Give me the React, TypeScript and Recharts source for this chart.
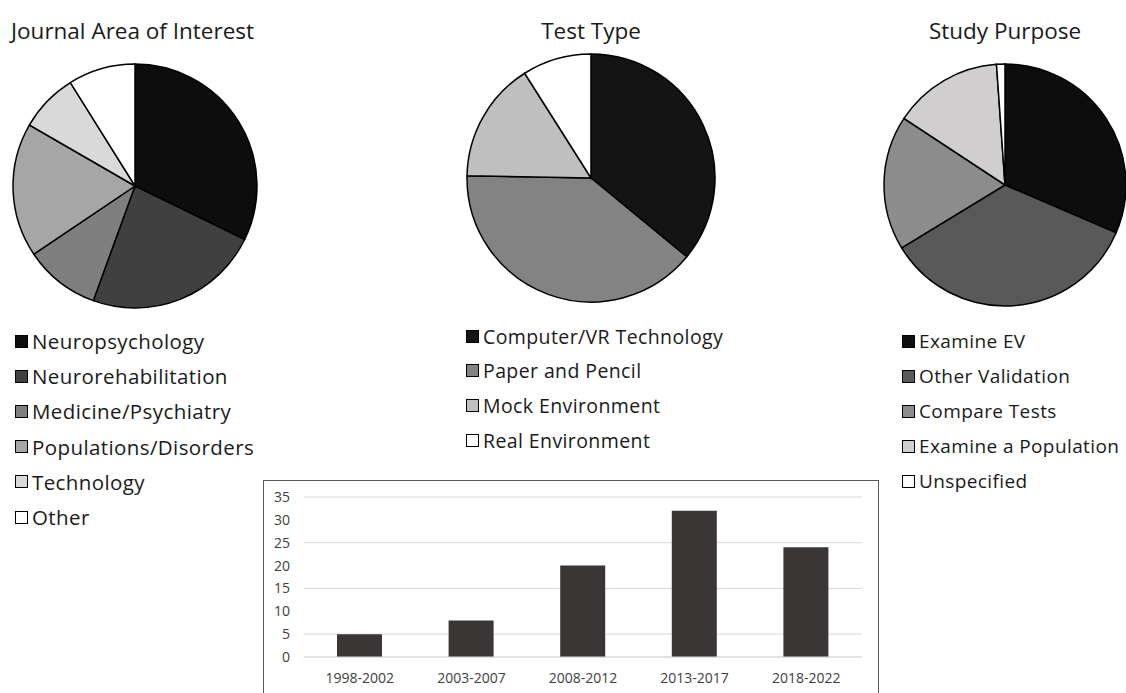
import React from 'react';
import { PieChart, Pie, BarChart, Bar, XAxis, YAxis, CartesianGrid } from 'recharts';

// Journal area of interest
const journalAreas = ['Neuropsychology', 'Neurorehabilitation', 'Medicine/Psychiatry', 'Populations/Disorders', 'Technology', 'Other'];
const journalCounts = [29, 21, 9, 16, 7, 8];
const journalColors = ['#0d0d0d', '#404040', '#7f7f7f', '#a6a6a6', '#d9d9d9', '#ffffff'];

// Test type
const testTypes = ['Computer/VR Technology', 'Paper and Pencil', 'Mock Environment', 'Real Environment'];
const testCounts = [32, 35, 14, 8];
const testColors = ['#141414', '#838383', '#bfbfbf', '#ffffff'];

// Study purpose
const purposes = ['Examine EV', 'Other Validation', 'Compare Tests', 'Examine a Population', 'Unspecified'];
const purposeCounts = [28, 31, 16, 13, 1];
const purposeColors = ['#0d0d0d', '#595959', '#8c8c8c', '#d0cece', '#ffffff'];

// Publications per period
const periods = ['1998-2002', '2003-2007', '2008-2012', '2013-2017', '2018-2022'];
const periodCounts = [5, 8, 20, 32, 24];
const yTicks = [0, 5, 10, 15, 20, 25, 30, 35];

const FONT = '"Open Sans", Lato, sans-serif';

const toSlices = (names: string[], values: number[], colors: string[]) =>
  names.map((name, i) => ({ name, value: values[i], fill: colors[i] }));

interface PiePanelProps {
  title: string;
  titleLeft: number;
  titleAlign: 'left' | 'center';
  titleWidth: number;
  names: string[];
  values: number[];
  colors: string[];
  cx: number;
  cy: number;
  r: number;
  legendX: number;
  legendY: number;
  legendStep: number;
  legendFont: number;
}

const PiePanel: React.FC<PiePanelProps> = (p) => {
  const size = p.r * 2 + 8;
  return (
    <>
      <div
        style={{
          position: 'absolute',
          left: p.titleLeft,
          top: 16,
          width: p.titleWidth,
          textAlign: p.titleAlign,
          fontSize: 22.5,
          lineHeight: '30px',
          color: '#1a1a1a',
          whiteSpace: 'nowrap',
        }}
      >
        {p.title}
      </div>
      <div style={{ position: 'absolute', left: p.cx - size / 2, top: p.cy - size / 2 }}>
        <PieChart width={size} height={size} margin={{ top: 0, right: 0, bottom: 0, left: 0 }}>
          <Pie
            data={toSlices(p.names, p.values, p.colors)}
            dataKey="value"
            nameKey="name"
            cx={size / 2}
            cy={size / 2}
            outerRadius={p.r}
            startAngle={90}
            endAngle={-270}
            stroke="#000"
            strokeWidth={1.5}
            isAnimationActive={false}
          />
        </PieChart>
      </div>
      {p.names.map((name, i) => (
        <div
          key={name}
          style={{
            position: 'absolute',
            left: p.legendX,
            top: p.legendY + i * p.legendStep - 14,
            height: 28,
            display: 'flex',
            alignItems: 'center',
            fontSize: p.legendFont,
            letterSpacing: 0.4,
            color: '#1a1a1a',
            whiteSpace: 'nowrap',
          }}
        >
          <span
            style={{
              display: 'inline-block',
              width: 11,
              height: 11,
              border: '1.5px solid #000',
              background: p.colors[i],
              marginRight: 4,
            }}
          />
          {name}
        </div>
      ))}
    </>
  );
};

const tickStyle = { fill: '#404040', fontSize: 14, fontFamily: FONT };

const App: React.FC = () => {
  const barData = periods.map((period, i) => ({ period, count: periodCounts[i] }));

  return (
    <div
      style={{
        position: 'absolute',
        left: 0,
        top: 0,
        width: 1126,
        height: 693,
        overflow: 'hidden',
        background: '#fff',
        fontFamily: FONT,
      }}
    >
      <PiePanel
        title="Journal Area of Interest"
        titleLeft={11}
        titleAlign="left"
        titleWidth={300}
        names={journalAreas}
        values={journalCounts}
        colors={journalColors}
        cx={135}
        cy={186}
        r={122}
        legendX={15}
        legendY={341}
        legendStep={35.2}
        legendFont={20.5}
      />
      <PiePanel
        title="Test Type"
        titleLeft={491}
        titleAlign="center"
        titleWidth={200}
        names={testTypes}
        values={testCounts}
        colors={testColors}
        cx={591}
        cy={178}
        r={124}
        legendX={466}
        legendY={336}
        legendStep={34.7}
        legendFont={19.5}
      />
      <PiePanel
        title="Study Purpose"
        titleLeft={905}
        titleAlign="center"
        titleWidth={200}
        names={purposes}
        values={purposeCounts}
        colors={purposeColors}
        cx={1005}
        cy={185}
        r={121}
        legendX={902}
        legendY={341}
        legendStep={35}
        legendFont={19}
      />

      <div
        style={{
          position: 'absolute',
          left: 263,
          top: 480,
          width: 616,
          height: 240,
          border: '1.5px solid #595959',
          boxSizing: 'border-box',
        }}
      >
        <BarChart
          width={613}
          height={220}
          data={barData}
          margin={{ top: 16, right: 15, bottom: 0, left: 0 }}
          style={{ fontFamily: FONT }}
        >
          <CartesianGrid vertical={false} stroke="#d9d9d9" />
          <XAxis
            dataKey="period"
            height={44}
            tickLine={false}
            tickSize={6}
            tickMargin={10}
            axisLine={{ stroke: '#d9d9d9' }}
            tick={tickStyle}
            interval={0}
          />
          <YAxis
            width={40}
            domain={[0, 35]}
            ticks={yTicks}
            axisLine={false}
            tickLine={false}
            tickSize={6}
            tickMargin={8}
            tick={tickStyle}
          />
          <Bar dataKey="count" fill="#3a3636" barSize={45} isAnimationActive={false} />
        </BarChart>
      </div>
    </div>
  );
};

export default App;
